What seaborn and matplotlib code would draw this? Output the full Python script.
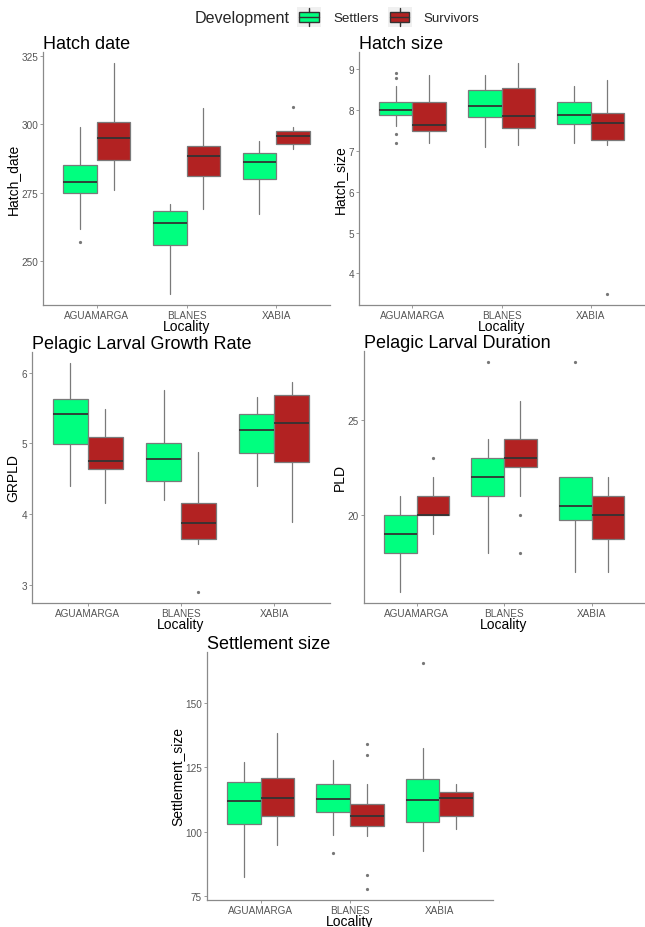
import numpy as np
import matplotlib
matplotlib.use("Agg")
import matplotlib.pyplot as plt
from matplotlib.patches import Rectangle
from matplotlib.lines import Line2D
from matplotlib.legend_handler import HandlerBase
import seaborn as sns

# ---- data: five-number summaries (whisker low, Q1, median, Q3, whisker high) ----
localities = ["AGUAMARGA", "BLANES", "XABIA"]
groups = ["Settlers", "Survivors"]
group_colors = ["#00FF7F", "#B22222"]

hatch_date_settlers = [(261.8, 275.0, 279.0, 285.1, 299.0),
                       (238.0, 255.7, 263.7, 268.3, 270.7),
                       (267.0, 279.9, 286.1, 289.5, 293.9)]
hatch_date_survivors = [(276.0, 287.0, 295.1, 300.9, 322.3),
                        (269.1, 280.9, 288.5, 292.1, 306.1),
                        (291.1, 292.8, 295.7, 297.4, 299.0)]
hatch_date_settlers_out = [[257.0], [], []]
hatch_date_survivors_out = [[], [], [306.3]]

hatch_size_settlers = [(7.60, 7.89, 7.99, 8.19, 8.58),
                       (7.10, 7.84, 8.10, 8.49, 8.87),
                       (7.19, 7.67, 7.89, 8.19, 8.58)]
hatch_size_survivors = [(7.19, 7.48, 7.64, 8.19, 8.87),
                        (7.15, 7.57, 7.85, 8.54, 9.14),
                        (7.15, 7.26, 7.69, 7.94, 8.74)]
hatch_size_settlers_out = [[8.90, 8.79, 7.41, 7.19], [], []]
hatch_size_survivors_out = [[], [], [3.51]]

grpld_settlers = [(4.39, 4.99, 5.42, 5.62, 6.13),
                  (4.19, 4.47, 4.77, 5.00, 5.75),
                  (4.39, 4.86, 5.19, 5.42, 5.65)]
grpld_survivors = [(4.16, 4.63, 4.75, 5.09, 5.48),
                   (3.57, 3.65, 3.87, 4.15, 4.87),
                   (3.89, 4.74, 5.29, 5.68, 5.87)]
grpld_settlers_out = [[], [], []]
grpld_survivors_out = [[], [2.90], []]

pld_settlers = [(16.0, 18.0, 19.0, 20.0, 21.0),
                (18.0, 21.0, 22.0, 23.0, 24.0),
                (17.0, 19.75, 20.5, 22.0, 22.0)]
pld_survivors = [(19.0, 20.0, 20.0, 21.0, 22.0),
                 (21.0, 22.5, 23.0, 24.0, 26.0),
                 (17.0, 18.75, 20.0, 21.0, 22.0)]
pld_settlers_out = [[], [28.0], [28.0]]
pld_survivors_out = [[23.0], [20.0, 18.0], []]

settle_settlers = [(82.3, 102.8, 111.7, 119.3, 126.9),
                   (98.7, 107.8, 112.8, 118.4, 127.9),
                   (92.5, 103.7, 112.1, 120.5, 132.3)]
settle_survivors = [(94.9, 106.0, 113.2, 120.7, 138.4),
                    (98.3, 102.0, 106.1, 110.9, 118.4),
                    (101.1, 106.0, 112.9, 115.5, 118.4)]
settle_settlers_out = [[], [91.6], [165.4]]
settle_survivors_out = [[], [134.2, 129.8, 83.2, 77.8], []]

panels = [
    dict(title="Hatch date", ylabel="Hatch_date",
         stats=[hatch_date_settlers, hatch_date_survivors],
         out=[hatch_date_settlers_out, hatch_date_survivors_out],
         ticks=[250, 275, 300, 325], box=(43, 330, 53, 306)),
    dict(title="Hatch size", ylabel="Hatch_size",
         stats=[hatch_size_settlers, hatch_size_survivors],
         out=[hatch_size_settlers_out, hatch_size_survivors_out],
         ticks=[4, 5, 6, 7, 8, 9], box=(359, 644, 53, 306)),
    dict(title="Pelagic Larval Growth Rate", ylabel="GRPLD",
         stats=[grpld_settlers, grpld_survivors],
         out=[grpld_settlers_out, grpld_survivors_out],
         ticks=[3, 4, 5, 6], box=(32, 330, 353, 604)),
    dict(title="Pelagic Larval Duration", ylabel="PLD",
         stats=[pld_settlers, pld_survivors],
         out=[pld_settlers_out, pld_survivors_out],
         ticks=[20, 25], box=(364, 644, 352, 604)),
    dict(title="Settlement size", ylabel="Settlement_size",
         stats=[settle_settlers, settle_survivors],
         out=[settle_settlers_out, settle_survivors_out],
         ticks=[75, 100, 125, 150], box=(207, 493, 653, 901)),
]

sns.set_theme(style="ticks")
plt.rcParams["font.family"] = ["Liberation Sans", "DejaVu Sans"]

W, H = 645, 928
fig = plt.figure(figsize=(W / 100, H / 100), dpi=100)

EDGE = "#7a7a7a"
AXIS = "#8a8a8a"
TICKTXT = "#555555"
box_w = 0.375
offsets = [-0.1875, 0.1875]


def add_axes_px(left, right, top, bottom):
    return fig.add_axes([left / W, 1 - bottom / H, (right - left) / W, (bottom - top) / H])


for p in panels:
    ax = add_axes_px(*p["box"])
    all_vals = []
    for g in range(2):
        stats = []
        for i, (lo, q1, med, q3, hi) in enumerate(p["stats"][g]):
            fl = p["out"][g][i]
            stats.append(dict(whislo=lo, q1=q1, med=med, q3=q3, whishi=hi, fliers=fl))
            all_vals += [lo, hi] + list(fl)
        ax.bxp(stats, positions=np.arange(3) + offsets[g], widths=box_w,
               patch_artist=True, showcaps=False, manage_ticks=False,
               boxprops=dict(facecolor=group_colors[g], edgecolor=EDGE, linewidth=0.9),
               whiskerprops=dict(color=EDGE, linewidth=0.9),
               medianprops=dict(color="#333333", linewidth=1.3),
               flierprops=dict(marker="o", markersize=1.3, markerfacecolor="#777777",
                               markeredgecolor="#777777", linestyle="none"))
    lo, hi = min(all_vals), max(all_vals)
    pad = (hi - lo) * 0.05
    ax.set_ylim(lo - pad, hi + pad)
    ax.set_xlim(-0.6, 2.6)
    ax.set_xticks(np.arange(3))
    ax.set_xticklabels(localities)
    ax.set_yticks(p["ticks"])
    ax.set_yticklabels([str(t) for t in p["ticks"]])
    ax.tick_params(axis="both", labelsize=7.2, labelcolor=TICKTXT, color=AXIS,
                   length=2.5, width=0.6, pad=1.0)
    sns.despine(ax=ax)
    for s in ("left", "bottom"):
        ax.spines[s].set_color(AXIS)
        ax.spines[s].set_linewidth(0.9)
    ax.set_xlabel("Locality", fontsize=10, color="black", labelpad=-0.5)
    ax.set_ylabel(p["ylabel"], fontsize=10, color="black", labelpad=1)
    ax.set_title(p["title"], loc="left", fontsize=13, color="black", pad=3)


class BoxKeyHandler(HandlerBase):
    def __init__(self, color):
        super().__init__()
        self.color = color

    def create_artists(self, legend, orig_handle, xdescent, ydescent, width, height,
                       fontsize, trans):
        x0, y0 = -xdescent, -ydescent
        bg = Rectangle((x0, y0), width, height, facecolor="#f0f0f0", edgecolor="none",
                       transform=trans)
        box = Rectangle((x0 + 0.1 * width, y0 + 0.25 * height), 0.8 * width, 0.5 * height,
                        facecolor=self.color, edgecolor="#333333", linewidth=1.0,
                        transform=trans)
        cx = x0 + width / 2
        w1 = Line2D([cx, cx], [y0 + 0.05 * height, y0 + 0.25 * height], color="#333333",
                    linewidth=1.0, transform=trans)
        w2 = Line2D([cx, cx], [y0 + 0.75 * height, y0 + 0.95 * height], color="#333333",
                    linewidth=1.0, transform=trans)
        med = Line2D([x0 + 0.1 * width, x0 + 0.9 * width], [y0 + 0.5 * height] * 2,
                     color="#333333", linewidth=1.0, transform=trans)
        return [bg, box, w1, w2, med]


handles = [Rectangle((0, 0), 1, 1, label=g) for g in groups]
handler_map = {h: BoxKeyHandler(c) for h, c in zip(handles, group_colors)}
fig.text(195 / W, 1 - 18 / H, "Development", fontsize=11.6, va="center", ha="left")
fig.legend(handles=handles, labels=groups, handler_map=handler_map, ncol=2,
           loc="center left", bbox_to_anchor=(297 / W, 1 - 18 / H), frameon=False,
           fontsize=9.6, handlelength=1.8, handleheight=1.9, handletextpad=0.9,
           columnspacing=0.7, borderpad=0, borderaxespad=0)

fig.savefig("out.png", dpi=100)
